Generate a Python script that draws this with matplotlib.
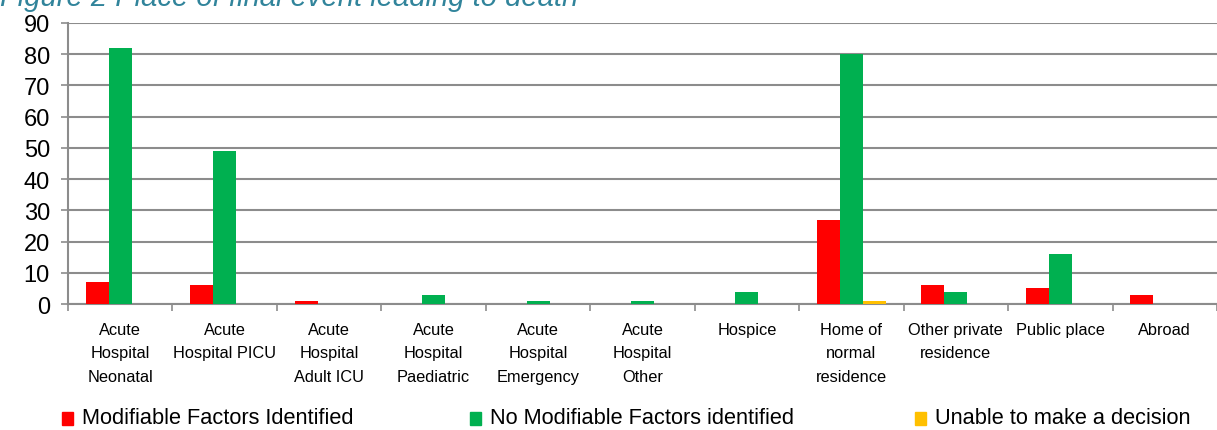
import numpy as np
import matplotlib
matplotlib.use("Agg")
import matplotlib.pyplot as plt
from matplotlib.patches import Rectangle

plt.rcParams.update({"font.family": ["Liberation Sans", "DejaVu Sans"]})

categories = ["Acute\nHospital\nNeonatal", "Acute\nHospital PICU", "Acute\nHospital\nAdult ICU",
              "Acute\nHospital\nPaediatric", "Acute\nHospital\nEmergency", "Acute\nHospital\nOther",
              "Hospice", "Home of\nnormal\nresidence", "Other private\nresidence",
              "Public place", "Abroad"]
modifiable = [7, 6, 1, 0, 0, 0, 0, 27, 6, 5, 3]
no_modifiable = [82, 49, 0, 3, 1, 1, 4, 80, 4, 16, 0]
unable = [0, 0, 0, 0, 0, 0, 0, 1, 0, 0, 0]

series = [
    ("Modifiable Factors Identified", modifiable, "#ff0000"),
    ("No Modifiable Factors identified", no_modifiable, "#00b050"),
    ("Unable to make a decision", unable, "#ffc000"),
]

W, H = 1217, 431
fig = plt.figure(figsize=(W / 100, H / 100), dpi=100)
ax = fig.add_axes([68 / W, 1 - 305 / H, 1 - 68 / W, (305 - 24) / H])

x = np.arange(len(categories))
bw = 0.22
for i, (name, vals, col) in enumerate(series):
    ax.bar(x + (i - 1) * bw, vals, bw, color=col, edgecolor="none", zorder=3)

ax.set_xlim(-0.5, len(categories) - 0.5)
ax.set_ylim(0, 90)
ax.set_yticks(range(0, 91, 10))
ax.yaxis.grid(True, color="#8c8c8c", lw=1.5, zorder=0)
ax.set_xticks(x)
ax.set_xticklabels(categories, fontsize=11.8, linespacing=1.7)
ax.set_xticks(np.arange(-0.5, len(categories), 1), minor=True)
ax.tick_params(axis="x", which="major", length=0, pad=13)
ax.tick_params(axis="x", which="minor", length=5, color="#8c8c8c", width=1.2)
ax.tick_params(axis="y", labelsize=17, length=5, color="#8c8c8c", width=1.2, pad=8)
for s in ["top", "right"]:
    ax.spines[s].set_visible(False)
ax.spines["left"].set_color("#8c8c8c")
ax.spines["left"].set_linewidth(1.5)
ax.spines["bottom"].set_color("#8c8c8c")
ax.spines["bottom"].set_linewidth(1.5)

fig.text(0.0, 1 - 6 / H, "Figure 2 Place of final event leading to death",
         color="#31849b", fontsize=21, style="italic", va="baseline", ha="left")

# legend
legend_x = [62, 470, 915]
for (name, vals, col), lx in zip(series, legend_x):
    fig.patches.append(Rectangle((lx / W, 1 - 426 / H), 11 / W, 13 / H,
                                 transform=fig.transFigure, color=col))
    fig.text((lx + 20) / W, 1 - 419 / H, name, fontsize=15.7, va="center", ha="left")

fig.savefig("out.png", dpi=100)
